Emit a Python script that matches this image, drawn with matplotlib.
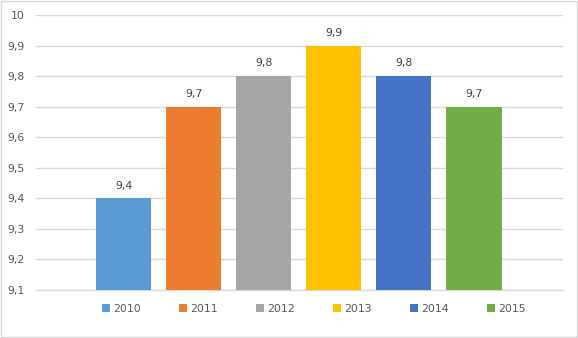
import matplotlib
matplotlib.use("Agg")
import matplotlib.pyplot as plt
from matplotlib.patches import Rectangle
import numpy as np

years = ["2010", "2011", "2012", "2013", "2014", "2015"]
values = [9.4, 9.7, 9.8, 9.9, 9.8, 9.7]
colors = ["#5B9BD5", "#ED7D31", "#A5A5A5", "#FFC000", "#4472C4", "#70AD47"]
yticks = [9.1, 9.2, 9.3, 9.4, 9.5, 9.6, 9.7, 9.8, 9.9, 10.0]

def fmt(v):
    s = ("%.1f" % v).rstrip("0").rstrip(".")
    return s.replace(".", ",")

plt.rcParams["font.family"] = ["DejaVu Sans"]
fig = plt.figure(figsize=(5.78, 3.38), dpi=100)
ax = fig.add_axes([36/578, 1-290/338, (563-36)/578, (290-15)/338])

x = np.arange(len(years))
for i in range(len(years)):
    ax.bar(x[i], values[i] - 9.1, bottom=9.1, width=0.786, color=colors[i], label=years[i], zorder=3)
    ax.text(x[i], values[i] + 0.025, fmt(values[i]), ha="center", va="bottom", fontsize=7.8, color="#404040")

ax.set_ylim(9.1, 10.0)
ax.set_xlim(-1.25, 6.27)
ax.set_yticks(yticks)
ax.set_yticklabels([fmt(t) for t in yticks], fontsize=7.8, color="#595959")
ax.set_xticks([])
ax.tick_params(axis="y", length=0, pad=8)
ax.grid(axis="y", color="#D9D9D9", linewidth=1, zorder=0)
for s in ["top", "right", "left"]:
    ax.spines[s].set_visible(False)
ax.spines["bottom"].set_color("#D9D9D9")
ax.spines["bottom"].set_linewidth(1)

leg = fig.legend(loc="center", bbox_to_anchor=(0.543, 1-309/338), ncol=6, frameon=False,
                 fontsize=7.8, handlelength=0.7, handleheight=0.7, handletextpad=0.3,
                 columnspacing=3.55, labelcolor="#595959")

fig.patches.append(Rectangle((0.001, 0.002), 0.997, 0.995, transform=fig.transFigure,
                             fill=False, edgecolor="#D9D9D9", linewidth=1))
fig.savefig("out.png", dpi=100)
